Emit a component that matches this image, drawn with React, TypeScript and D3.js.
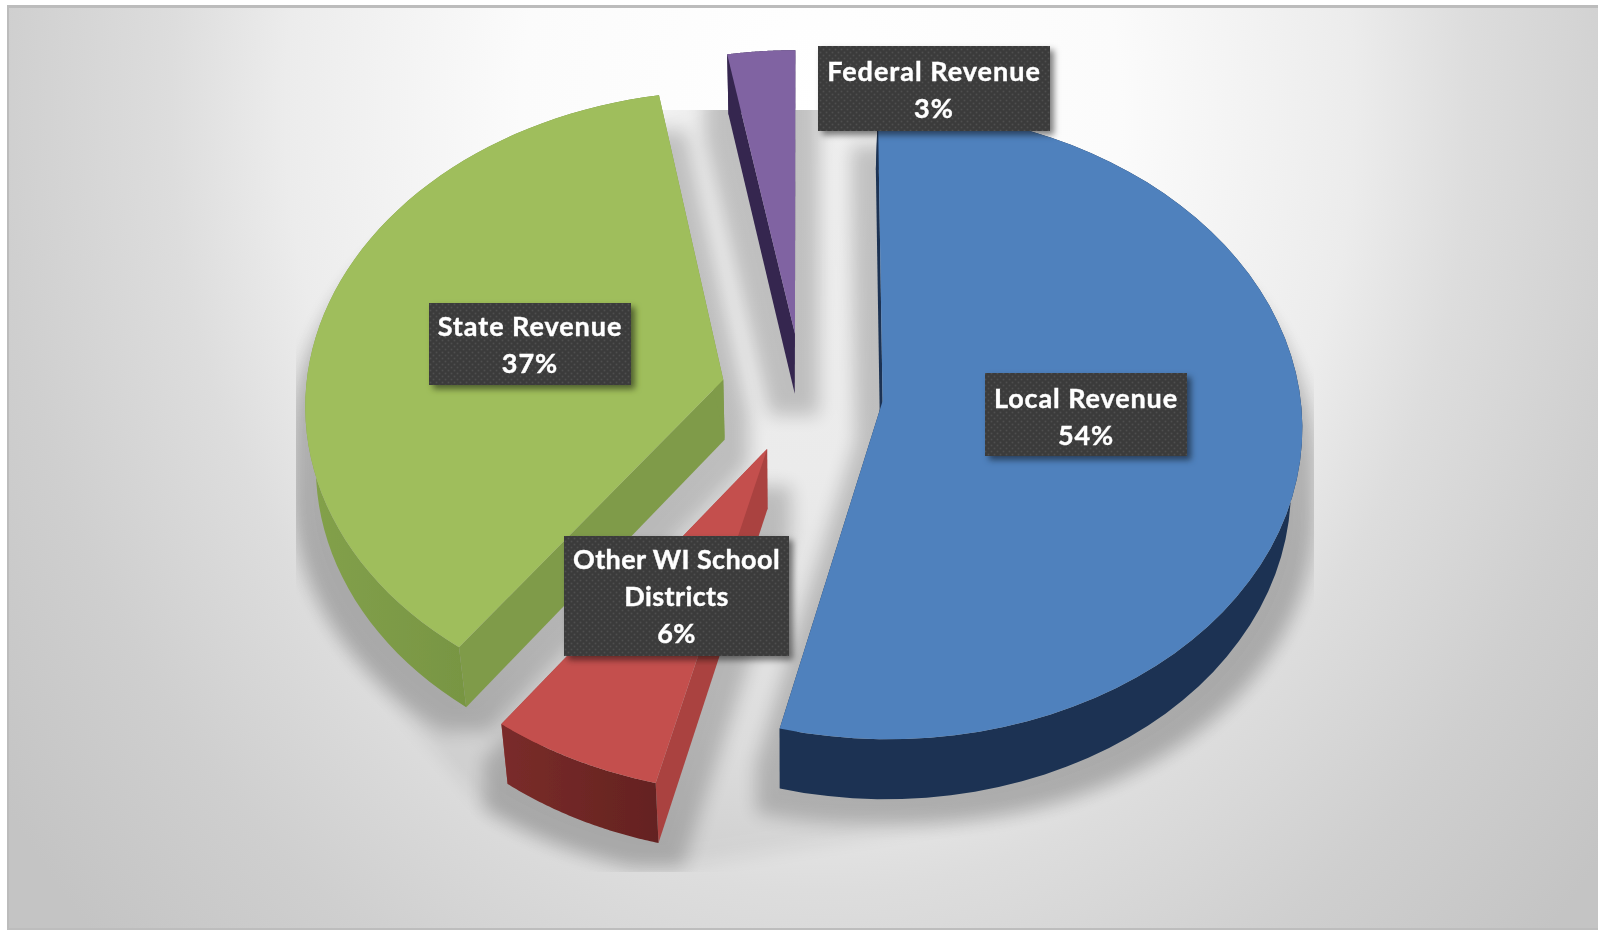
import React from 'react';
import * as d3 from 'd3';

const W = 1598;
const H = 932;

// Slices, clockwise from 12 o'clock
const categories = ['Local Revenue', 'Other WI School Districts', 'State Revenue', 'Federal Revenue'];
const shares = [53.9, 6.2, 37.1, 2.8];
const labelLines = [['Local Revenue', '54%'], ['Other WI School', 'Districts', '6%'], ['State Revenue', '37%'], ['Federal Revenue', '3%']];
const topColors = ['#4f81bd', '#c4504e', '#9fbe5b', '#8064a2'];
const rimLeft = ['#1c3353', '#7a2c2a', '#83a14b', '#35264f'];
const rimRight = ['#1c3353', '#642220', '#6a8739', '#35264f'];
const cutColors = ['#1c3353', '#aa4340', '#7f9b49', '#35264f'];

// Label boxes: left, top, right, bottom
const labelBoxes = [[985, 373, 1187, 456], [564, 536, 789, 656], [429, 303, 631, 385], [818, 46, 1050, 131]];
const labelTracking = [0.9, 0.4, 0.95, 1.0];
const labelNudge = [2, 0, 0, 1];
const drawOrder = [3, 2, 1, 0];

// 3D pie projection
const cx = 802;
const cy = 397.5;
const rx = 418;
const ry = 312.6;
const persp = 0.062;
const explode = 0.194;
const depth = 60;
const vanishX = 785;
const vanishAmt = 0.022;
const apexLift = 4;

type Pt = [number, number];

const project = (X: number, Y: number): Pt => {
    const s = 1 / (1 + persp * Y);
    return [cx + rx * X * s, cy - ry * Y * s];
};
const drop = ([x, y]: Pt): Pt => [x + (vanishX - x) * vanishAmt, y + depth];

const pieGen = d3.pie<number>().sort(null)(shares);
const line = d3.line<Pt>().curve(d3.curveLinear);

const slices = pieGen.map((p) => {
    const mid = (p.startAngle + p.endAngle) / 2;
    const ox = explode * Math.sin(mid);
    const oy = explode * Math.cos(mid);
    const [ax, ay] = project(ox, oy);
    const apex: Pt = [ax, ay - apexLift];
    const steps = d3.range(0, 61).map((i) => p.startAngle + ((p.endAngle - p.startAngle) * i) / 60);
    const arc: Pt[] = steps.map((a) => project(ox + Math.sin(a), oy + Math.cos(a)));
    return { apex, arc };
});

// whole footprint, tints the gaps between slices
const hull = d3.polygonHull(slices.flatMap((s) => s.arc.map(drop))) as Pt[];

export default function App() {
    return (
        <svg width={W} height={H} viewBox={`0 0 ${W} ${H}`} style={{ position: 'absolute', left: 0, top: 0, display: 'block' }}>
            <defs>
                <radialGradient
                    id="bg"
                    gradientUnits="userSpaceOnUse"
                    cx={0}
                    cy={0}
                    r={1}
                    gradientTransform="translate(820,110) scale(1000,1200)"
                >
                    <stop offset="0" stopColor="#ffffff" />
                    <stop offset="0.3" stopColor="#fbfbfb" />
                    <stop offset="0.535" stopColor="#ececec" />
                    <stop offset="0.65" stopColor="#dddddd" />
                    <stop offset="0.82" stopColor="#cfcfcf" />
                    <stop offset="1" stopColor="#c4c4c4" />
                </radialGradient>
                {slices.map((_, i) => (
                    <linearGradient key={i} id={`rim${i}`} x1="0" x2="1" y1="0" y2="0">
                        <stop offset="0" stopColor={rimLeft[i]} />
                        <stop offset="1" stopColor={rimRight[i]} />
                    </linearGradient>
                ))}
                <filter id="soft" filterUnits="userSpaceOnUse" x={0} y={0} width={W} height={H}>
                    <feMorphology operator="dilate" radius="24" />
                    <feGaussianBlur stdDeviation="9" />
                </filter>
                <filter id="jpeg" filterUnits="userSpaceOnUse" x={0} y={0} width={W} height={H}>
                    <feGaussianBlur stdDeviation="0.5" />
                </filter>
                <filter id="boxShadow" x="-10%" y="-10%" width="125%" height="125%">
                    <feDropShadow dx="4" dy="4" stdDeviation="3" floodColor="#000" floodOpacity="0.5" />
                </filter>
                <pattern id="dots" width="6" height="6" patternUnits="userSpaceOnUse">
                    <rect width="6" height="6" fill="#3a3a3a" />
                    <circle cx="1.5" cy="1.5" r="1" fill="#4f4f4f" />
                    <circle cx="4.5" cy="4.5" r="1" fill="#4f4f4f" />
                </pattern>
                <clipPath id="shadowClip">
                    <rect x={296} y={110} width={1018} height={762} />
                </clipPath>
            </defs>

            <g filter="url(#jpeg)">
                <rect x={7} y={5} width={W - 7} height={925} fill="url(#bg)" />
                <rect x={7} y={5} width={W - 7} height={3} fill="#bcbcbc" />
                <rect x={7} y={5} width={2} height={925} fill="#bcbcbc" />
                <rect x={7} y={928} width={W - 7} height={2} fill="#bdbdbd" />

                {/* floor shadow: the slice bases, grown and softened */}
                <g clipPath="url(#shadowClip)">
                    <path d={line(hull)! + 'Z'} fill="#000" opacity={0.06} filter="url(#soft)" />
                    <g filter="url(#soft)" opacity={0.19}>
                        {slices.map((s, i) => (
                            <path key={i} d={line([drop(s.apex), ...s.arc.map(drop)])! + 'Z'} fill="#000" />
                        ))}
                    </g>
                </g>

                {drawOrder.map((i) => {
                    const s = slices[i];
                    const rimBottom = s.arc.map(drop).reverse();
                    const first = s.arc[0];
                    const last = s.arc[s.arc.length - 1];
                    return (
                        <g key={categories[i]}>
                            <path d={line([s.apex, first, drop(first), drop(s.apex)])! + 'Z'} fill={cutColors[i]} />
                            <path d={line([s.apex, last, drop(last), drop(s.apex)])! + 'Z'} fill={cutColors[i]} />
                            <path d={line([...s.arc, ...rimBottom])! + 'Z'} fill={`url(#rim${i})`} />
                            <path d={line([s.apex, ...s.arc])! + 'Z'} fill={topColors[i]} />
                        </g>
                    );
                })}

                {labelBoxes.map(([x0, y0, x1, y1], i) => {
                    const lines = labelLines[i];
                    const mid = (x0 + x1) / 2;
                    const firstBase = (y0 + y1) / 2 - ((lines.length - 1) * 37) / 2 + 10 + labelNudge[i];
                    return (
                        <g key={i}>
                            <rect x={x0} y={y0} width={x1 - x0} height={y1 - y0} fill="url(#dots)" filter="url(#boxShadow)" />
                            {lines.map((t, j) => (
                                <text
                                    key={j}
                                    x={mid}
                                    y={firstBase + j * 37}
                                    textAnchor="middle"
                                    fontFamily="Lato, 'Open Sans', sans-serif"
                                    fontWeight={700}
                                    fontSize={27}
                                    letterSpacing={labelTracking[i]}
                                    fill="#ffffff"
                                    stroke="#ffffff"
                                    strokeWidth={0.4}
                                >
                                    {t}
                                </text>
                            ))}
                        </g>
                    );
                })}
            </g>
        </svg>
    );
}
